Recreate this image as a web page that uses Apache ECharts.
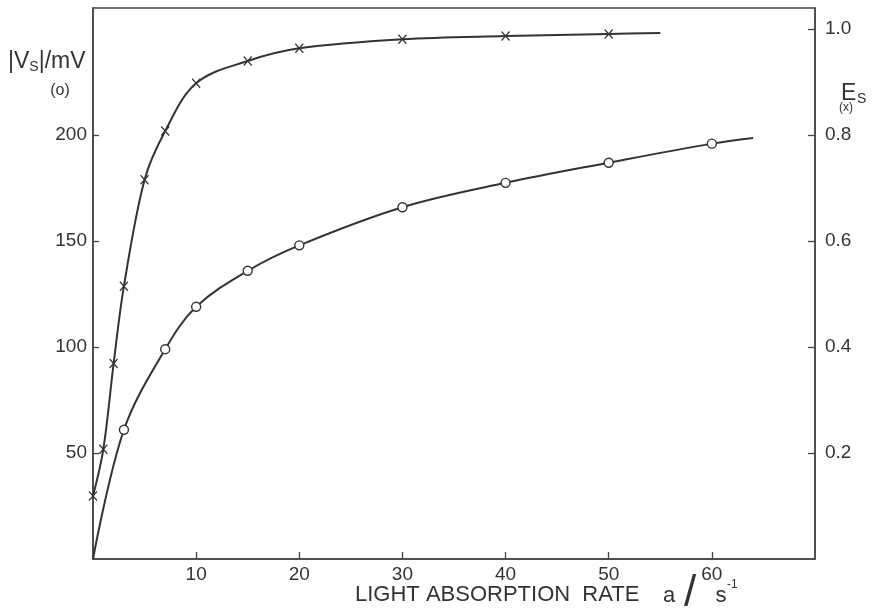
<!DOCTYPE html>
<html>
<head>
<meta charset="utf-8">
<script src="https://cdn.jsdelivr.net/npm/echarts@6/dist/echarts.min.js"></script>
<style>
  html, body { margin: 0; padding: 0; background: #fff; }
  #chart { width: 874px; height: 614px; }
</style>
</head>
<body>
<div id="chart"></div>
<script>
// E_s (crosses) against absorption rate
var eRate = [0, 1, 2, 3, 5, 7, 10, 15, 20, 30, 40, 50, 55];
var eVal = [0.119, 0.207, 0.369, 0.515, 0.716, 0.808, 0.898, 0.940, 0.964, 0.981, 0.987, 0.991, 0.993];
var eMarked = [1, 1, 1, 1, 1, 1, 1, 1, 1, 1, 1, 1, 0];

// |V_s| (circles) against absorption rate
var vRate = [0, 3, 7, 10, 15, 20, 30, 40, 50, 60, 64];
var vVal = [0, 61, 99, 119, 136, 148, 166, 177.5, 187, 196, 198.7];
var vMarked = [0, 1, 1, 1, 1, 1, 1, 1, 1, 1, 0];

var xTicks = [10, 20, 30, 40, 50, 60];
var vTicks = [50, 100, 150, 200];
var eTicks = [0.2, 0.4, 0.6, 0.8, 1.0];

var FONT = 'Liberation Sans';
var INK = '#333';
var CROSS = 'path://M0,0L10,10M10,0L0,10';

function buildData(xs, ys, marked) {
    return xs.map(function (x, i) {
        var item = { value: [x, ys[i]] };
        if (!marked[i]) item.symbol = 'none';
        return item;
    });
}

var myChart = echarts.init(document.getElementById('chart'));

var option = {
    animation: false,
    backgroundColor: '#fff',
    grid: {
        left: 93, right: 59, top: 8, bottom: 55,
        show: true,
        borderColor: '#444',
        borderWidth: 1.5
    },
    xAxis: {
        type: 'value',
        min: 0,
        max: 70,
        axisLine: { lineStyle: { color: '#444', width: 1.5 } },
        axisTick: { inside: true, length: 7, customValues: xTicks, lineStyle: { color: '#444', width: 1.3 } },
        axisLabel: { customValues: xTicks, margin: 6, color: INK, fontFamily: FONT, fontSize: 19 },
        splitLine: { show: false }
    },
    yAxis: [
        {
            type: 'value',
            min: 0,
            max: 260,
            axisLine: { show: true, lineStyle: { color: '#444', width: 1.5 } },
            axisTick: { show: true, inside: true, length: 6, customValues: vTicks, lineStyle: { color: '#444', width: 1.3 } },
            axisLabel: { customValues: vTicks, margin: 6, color: INK, fontFamily: FONT, fontSize: 19 },
            splitLine: { show: false }
        },
        {
            type: 'value',
            position: 'right',
            min: 0,
            max: 1.04,
            axisLine: { show: true, lineStyle: { color: '#444', width: 1.5 } },
            axisTick: { show: true, inside: true, length: 7, customValues: eTicks, lineStyle: { color: '#444', width: 1.3 } },
            axisLabel: {
                customValues: eTicks, margin: 10, color: INK, fontFamily: FONT, fontSize: 19,
                formatter: function (v) { return v.toFixed(1); }
            },
            splitLine: { show: false }
        }
    ],
    series: [
        {
            type: 'line',
            yAxisIndex: 1,
            data: buildData(eRate, eVal, eMarked),
            smooth: 0.35,
            symbol: CROSS,
            symbolSize: [8, 9],
            itemStyle: { color: 'transparent', borderColor: INK, borderWidth: 1.3 },
            lineStyle: { color: INK, width: 2 },
            emphasis: { disabled: true },
            z: 3
        },
        {
            type: 'line',
            yAxisIndex: 0,
            data: buildData(vRate, vVal, vMarked),
            smooth: 0.35,
            symbol: 'circle',
            symbolSize: 9,
            itemStyle: { color: '#fff', borderColor: INK, borderWidth: 1.4 },
            lineStyle: { color: INK, width: 2 },
            emphasis: { disabled: true },
            z: 3
        }
    ],
    graphic: [
        {
            type: 'text', left: 8, top: 50,
            style: {
                text: '{b||V}{s|S}{b||/mV}',
                rich: {
                    b: { fontFamily: FONT, fontSize: 23, lineHeight: 26, fill: INK },
                    s: { fontFamily: FONT, fontSize: 14, lineHeight: 15, fill: INK, verticalAlign: 'bottom' }
                }
            }
        },
        { type: 'text', x: 60, y: 91, style: { text: '(o)', fontFamily: FONT, fontSize: 16, fill: INK, align: 'center', verticalAlign: 'middle' } },
        { type: 'text', x: 841, y: 82, style: { text: 'E', fontFamily: FONT, fontSize: 23, fill: INK } },
        { type: 'text', x: 857, y: 92, style: { text: 'S', fontFamily: FONT, fontSize: 14, fill: INK } },
        { type: 'text', x: 839, y: 102, style: { text: '(x)', fontFamily: FONT, fontSize: 12, fill: INK } },
        { type: 'text', x: 355, y: 595, style: { text: 'LIGHT ABSORPTION  RATE', fontFamily: FONT, fontSize: 22, fill: INK, verticalAlign: 'middle' } },
        { type: 'text', x: 669, y: 596, style: { text: 'a', fontFamily: FONT, fontSize: 22, fill: INK, align: 'center', verticalAlign: 'middle' } },
        { type: 'text', x: 690, y: 594, style: { text: '/', fontFamily: FONT, fontSize: 44, fill: INK, align: 'center', verticalAlign: 'middle' } },
        { type: 'text', x: 721, y: 596, style: { text: 's', fontFamily: FONT, fontSize: 22, fill: INK, align: 'center', verticalAlign: 'middle' } },
        { type: 'text', x: 727, y: 579, style: { text: '-1', fontFamily: FONT, fontSize: 12, fill: INK } }
    ]
};

myChart.setOption(option);
window.addEventListener('resize', function () {
    myChart.resize();
});
</script>
</body>
</html>
